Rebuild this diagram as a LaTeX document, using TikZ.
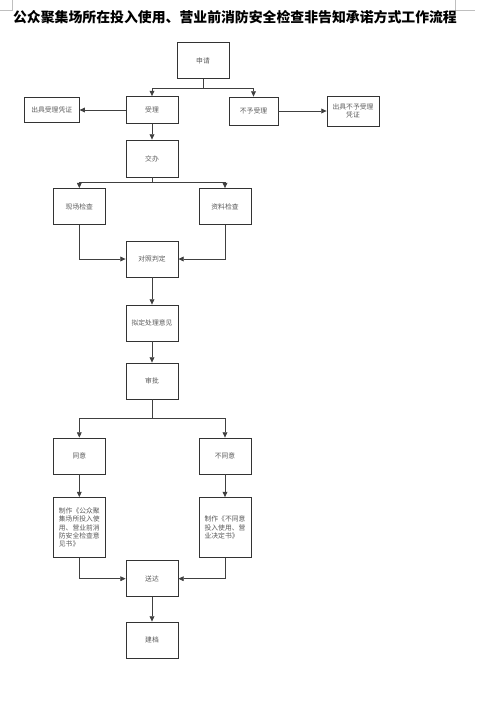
\documentclass[tikz,border=0pt]{standalone}
\usepackage{fontspec}
\setmainfont{Noto Sans CJK SC}
\usetikzlibrary{arrows.meta}
\begin{document}
\begin{tikzpicture}[x=.75pt,y=-.75pt,line width=.6pt,
  box/.style={draw=black!80,minimum width=39pt,minimum height=27pt,inner sep=1pt,
    font=\fontsize{5.1pt}{6.1pt}\selectfont,text=black!65},
  line/.style={draw=black!75},
  arr/.style={draw=black!75,-{Triangle[length=4pt,width=3.6pt]}}]
\useasboundingbox (0,0) rectangle (500,718);
\draw[black!25,line width=.4pt] (12,0)--(12,10)--(0,10) (455,0)--(455,10)--(475,10);
\node[font=\bfseries\fontsize{10.4pt}{13pt}\selectfont,inner sep=0pt] (biaoti) at (235,17) {公众聚集场所在投入使用、营业前消防安全检查非告知承诺方式工作流程};
\node[box] (shenqing) at (203,60.5) {申请};
\node[box,minimum height=20.25pt] (shouli) at (152,110) {受理};
\node[box,minimum width=41.25pt,minimum height=18.75pt] (pingzheng) at (51.7,110) {出具受理凭证};
\node[box,minimum width=36.75pt,minimum height=21pt] (buyu) at (253.5,111) {不予受理};
\node[box,minimum height=22.5pt,align=center] (buyupz) at (353,111) {出具不予受理\\凭证};
\node[box,minimum height=27.75pt] (jiaoban) at (152,158.5) {交办};
\node[box] (xianchang) at (79.3,206.5) {现场检查};
\node[box] (ziliao) at (225,206.5) {资料检查};
\node[box] (duizhao) at (152,259) {对照判定};
\node[box] (niding) at (152,323) {拟定处理意见};
\node[box] (shenpi) at (152,381) {审批};
\node[box] (tongyi) at (79.3,456) {同意};
\node[box] (butongyi) at (225,456) {不同意};
\node[box,minimum height=45pt,align=left] (zhizuoA) at (79.3,527.5) {制作《公众聚\\集场所投入使\\用、营业前消\\防安全检查意\\见书》};
\node[box,minimum height=45pt,align=left] (zhizuoB) at (225,527.5) {制作《不同意\\投入使用、营\\业决定书》};
\node[box] (songda) at (152,578.7) {送达};
\node[box] (jiandang) at (152,640) {建档};
\coordinate (fenA) at (203,88);
\coordinate (fenB) at (152,182.7);
\coordinate (fenC) at (152,418.3);
\draw[line] (shenqing.south) -- (fenA);
\draw[arr] (fenA) -| (shouli.north);
\draw[arr] (fenA) -| (buyu.north);
\draw[arr] (shouli.west) -- (pingzheng.east);
\draw[arr] (buyu.east) -- (buyupz.west);
\draw[arr] (shouli.south) -- (jiaoban.north);
\draw[line] (jiaoban.south) -- (fenB);
\draw[arr] (fenB) -| (xianchang.north);
\draw[arr] (fenB) -| (ziliao.north);
\draw[arr] (xianchang.south) |- (duizhao.west);
\draw[arr] (ziliao.south) |- (duizhao.east);
\draw[arr] (duizhao.south) -- (niding.north);
\draw[arr] (niding.south) -- (shenpi.north);
\draw[line] (shenpi.south) -- (fenC);
\draw[arr] (fenC) -| (tongyi.north);
\draw[arr] (fenC) -| (butongyi.north);
\draw[arr] (tongyi.south) -- (zhizuoA.north);
\draw[arr] (butongyi.south) -- (zhizuoB.north);
\draw[arr] (zhizuoA.south) |- (songda.west);
\draw[arr] (zhizuoB.south) |- (songda.east);
\draw[arr] (songda.south) -- (jiandang.north);
\end{tikzpicture}
\end{document}
